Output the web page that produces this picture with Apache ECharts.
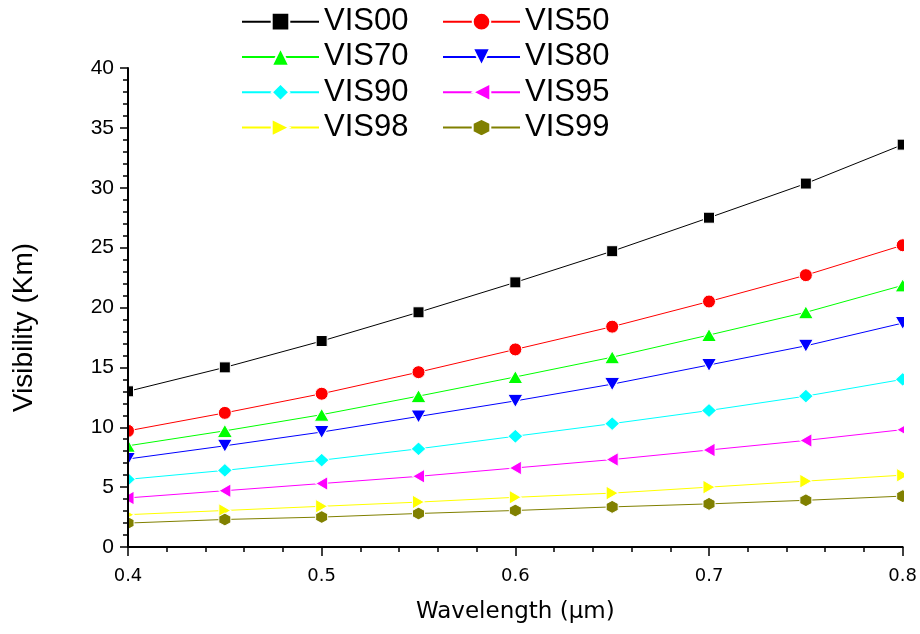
<!DOCTYPE html>
<html>
<head>
<meta charset="utf-8">
<script src="https://cdn.jsdelivr.net/npm/echarts@6/dist/echarts.min.js"></script>
<style>
html,body{margin:0;padding:0;background:#fff;}
#chart{width:920px;height:634px;}
</style>
</head>
<body>
<div id="chart"></div>
<script>
// ---- data ----
var wavelength = [0.4, 0.45, 0.5, 0.55, 0.6, 0.65, 0.7, 0.75, 0.8];
var VIS00 = [13.0, 15.0, 17.2, 19.6, 22.1, 24.7, 27.5, 30.35, 33.6];
var VIS50 = [9.7, 11.2, 12.8, 14.6, 16.5, 18.4, 20.5, 22.7, 25.2];
var VIS70 = [8.45, 9.7, 11.05, 12.6, 14.2, 15.85, 17.7, 19.6, 21.85];
var VIS80 = [7.35, 8.45, 9.6, 10.9, 12.2, 13.6, 15.2, 16.8, 18.7];
var VIS90 = [5.65, 6.4, 7.25, 8.2, 9.25, 10.3, 11.4, 12.6, 14.0];
var VIS95 = [4.1, 4.7, 5.3, 5.9, 6.6, 7.3, 8.1, 8.9, 9.8];
var VIS98 = [2.7, 3.05, 3.4, 3.75, 4.15, 4.5, 5.0, 5.5, 6.0];
var VIS99 = [2.0, 2.3, 2.5, 2.8, 3.05, 3.35, 3.6, 3.9, 4.25];
var seriesNames = ['VIS00', 'VIS50', 'VIS70', 'VIS80', 'VIS90', 'VIS95', 'VIS98', 'VIS99'];
var seriesValues = [VIS00, VIS50, VIS70, VIS80, VIS90, VIS95, VIS98, VIS99];
var legendCol1 = ['VIS00', 'VIS70', 'VIS90', 'VIS98'];
var legendCol2 = ['VIS50', 'VIS80', 'VIS95', 'VIS99'];
var xTitle = 'Wavelength (\u03bcm)';
var yTitle = 'Visibility (Km)';

// ---- styles ----
var hexPath = 'path://M0,-1L0.866,-0.5L0.866,0.5L0,1L-0.866,0.5L-0.866,-0.5Z';
var styles = [
  {color: '#000000', symbol: 'rect', size: [11, 11], rotate: 0},
  {color: '#ff0000', symbol: 'circle', size: [13, 13], rotate: 0},
  {color: '#00ff00', symbol: 'triangle', size: [15, 13], rotate: 0},
  {color: '#0000ff', symbol: 'triangle', size: [15, 13], rotate: 180},
  {color: '#00ffff', symbol: 'diamond', size: [15, 14], rotate: 0},
  {color: '#ff00ff', symbol: 'triangle', size: [14, 12], rotate: 90},
  {color: '#ffff00', symbol: 'triangle', size: [14, 12], rotate: -90},
  {color: '#808000', symbol: hexPath, size: [12, 13], rotate: 0}
];

var gridLeft = 128, gridRight = 17, gridTop = 68, gridBottom = 87;
var W = 920, H = 634;

var series = seriesNames.map(function (name, i) {
  var s = styles[i];
  return {
    name: name,
    type: 'line',
    data: wavelength.map(function (x, j) { return [x, seriesValues[i][j]]; }),
    symbol: s.symbol,
    symbolSize: s.size,
    symbolRotate: s.rotate,
    showAllSymbol: true,
    clip: false,
    z: 2,
    lineStyle: {color: s.color, width: 1},
    itemStyle: {color: s.color, borderColor: '#ffffff', borderWidth: 1},
    emphasis: {disabled: true},
    animation: false
  };
});

function legendAt(left, names) {
  return {
    data: names,
    orient: 'vertical',
    left: left,
    top: 4,
    padding: 0,
    itemGap: 0,
    itemWidth: 77,
    itemHeight: 22,
    selectedMode: false,
    textStyle: {fontFamily: 'Liberation Sans, Arial, sans-serif', fontSize: 31, color: '#000', lineHeight: 35.3}
  };
}

var chart = echarts.init(document.getElementById('chart'), null, {renderer: 'canvas'});
chart.setOption({
  backgroundColor: '#ffffff',
  animation: false,
  grid: {left: gridLeft, right: gridRight, top: gridTop, bottom: gridBottom, containLabel: false},
  legend: [legendAt(241, legendCol1), legendAt(442, legendCol2)],
  graphic: [
    {type: 'rect', z: 5, silent: true, shape: {x: 0, y: gridTop - 12, width: gridLeft - 1, height: H - gridTop - gridBottom + 24}, style: {fill: '#ffffff'}},
    {type: 'rect', z: 5, silent: true, shape: {x: W - gridRight + 1, y: gridTop - 12, width: gridRight, height: H - gridTop - gridBottom + 24}, style: {fill: '#ffffff'}}
  ],
  xAxis: {
    type: 'value',
    min: 0.4,
    max: 0.8,
    interval: 0.1,
    z: 10,
    name: xTitle,
    nameLocation: 'middle',
    nameGap: 54,
    nameTextStyle: {fontFamily: 'DejaVu Sans, sans-serif', fontSize: 23, color: '#000'},
    axisLine: {show: true, onZero: false, lineStyle: {color: '#000', width: 2}},
    axisTick: {show: true, inside: false, length: 9, lineStyle: {color: '#000', width: 1.5}},
    minorTick: {show: true, splitNumber: 5, length: 5, lineStyle: {color: '#000', width: 1.5}},
    splitLine: {show: false},
    minorSplitLine: {show: false},
    axisLabel: {
      margin: 20,
      fontFamily: 'DejaVu Sans, sans-serif',
      fontSize: 18,
      color: '#000',
      formatter: function (v) { return v.toFixed(1); }
    }
  },
  yAxis: {
    type: 'value',
    min: 0,
    max: 40,
    interval: 5,
    z: 10,
    name: yTitle,
    nameLocation: 'middle',
    nameRotate: 90,
    nameGap: 90,
    nameTextStyle: {fontFamily: 'Liberation Sans, Arial, sans-serif', fontSize: 28, color: '#000', padding: [0, 40, 0, 0]},
    axisLine: {show: true, onZero: false, lineStyle: {color: '#000', width: 2}},
    axisTick: {show: true, inside: false, length: 8, lineStyle: {color: '#000', width: 1.5}},
    minorTick: {show: true, splitNumber: 5, length: 5, lineStyle: {color: '#000', width: 1.5}},
    splitLine: {show: false},
    minorSplitLine: {show: false},
    axisLabel: {
      margin: 14,
      fontFamily: 'Liberation Sans, Arial, sans-serif',
      fontSize: 21,
      color: '#000'
    }
  },
  series: series
});
</script>
</body>
</html>
